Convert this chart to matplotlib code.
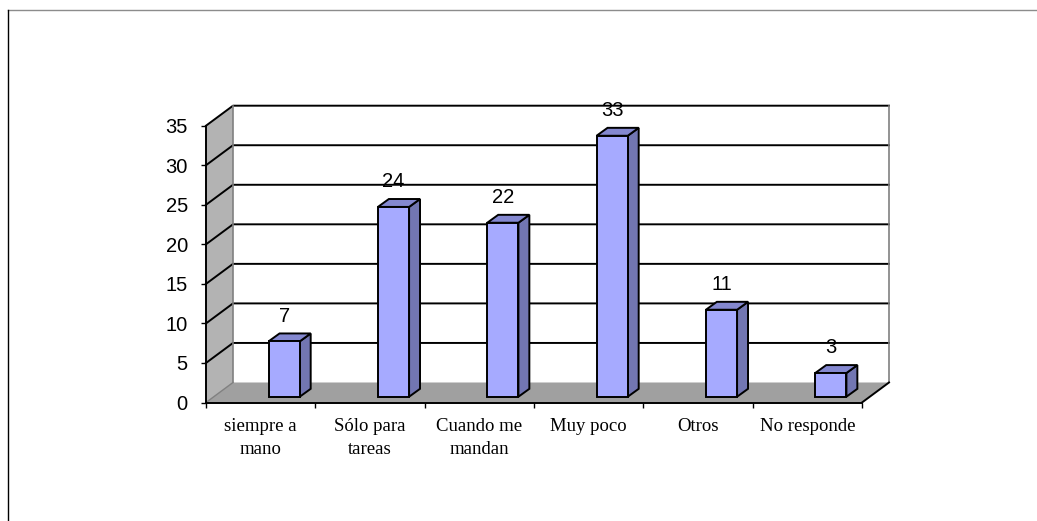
import numpy as np
import matplotlib
matplotlib.use('Agg')
import matplotlib.pyplot as plt
from matplotlib.patches import Polygon
from matplotlib.lines import Line2D

categories = ['siempre a\nmano', 'Sólo para\ntareas', 'Cuando me\nmandan', 'Muy poco', 'Otros', 'No responde']
values = [7, 24, 22, 33, 11, 3]
y_ticks = [0, 5, 10, 15, 20, 25, 30, 35]

# 3d look, everything in data units
wall_dx = 0.247
wall_dy = 2.53
bar_w = 0.285
bar_dx = 0.1
bar_dy = 1.0
bar_shift = 0.215
bar_base = 0.73

W, H = 1037, 521
fig = plt.figure(figsize=(W / 100, H / 100), dpi=100)
ax = fig.add_axes([206 / W, (H - 402.5) / H, (862 - 206) / W, (402.5 - 125.7) / H])
ax.set_xlim(0, 6)
ax.set_ylim(0, 35)
ax.patch.set_visible(False)


def poly(pts, fc, ec='none', lw=0, z=1):
    ax.add_patch(Polygon(pts, closed=True, fc=fc, ec=ec, lw=lw, zorder=z, clip_on=False, joinstyle='miter'))


# walls and floor
poly([(0, 0), (wall_dx, wall_dy), (wall_dx, 35 + wall_dy), (0, 35)], '#b3b3b3')
poly([(0, 0), (wall_dx, wall_dy), (6 + wall_dx, wall_dy), (6, 0)], '#a0a0a0')

# gridlines on side and back wall
for t in y_ticks[1:]:
    ax.plot([0, wall_dx, 6 + wall_dx], [t, t + wall_dy, t + wall_dy], color='black', lw=1.4, zorder=2, clip_on=False)
ax.plot([wall_dx, wall_dx], [wall_dy, 35 + wall_dy], color='#808080', lw=1.2, zorder=2, clip_on=False)
ax.plot([6 + wall_dx, 6 + wall_dx], [wall_dy, 35 + wall_dy], color='#808080', lw=1.2, zorder=2, clip_on=False)
ax.plot([0, wall_dx], [0, wall_dy], color='#808080', lw=1, zorder=2, clip_on=False)
ax.plot([6, 6 + wall_dx], [0, wall_dy], color='black', lw=1.4, zorder=2, clip_on=False)

# bars
for i, v in enumerate(values):
    x0 = i + 0.5 + bar_shift - bar_w / 2
    x1 = x0 + bar_w
    y0 = bar_base
    y1 = v + bar_base
    poly([(x1, y0), (x1 + bar_dx, y0 + bar_dy), (x1 + bar_dx, y1 + bar_dy), (x1, y1)], '#7276b2', 'black', 1.4, 3)
    poly([(x0, y1), (x0 + bar_dx, y1 + bar_dy), (x1 + bar_dx, y1 + bar_dy), (x1, y1)], '#8488d0', 'black', 1.4, 3)
    poly([(x0, y0), (x1, y0), (x1, y1), (x0, y1)], '#a6aaff', 'black', 1.4, 4)
    ax.text(i + 0.5 + bar_shift, v + 3.9, str(v), ha='center', va='center', fontsize=14.5,
            family='Liberation Sans', color='black', zorder=5)

# axes
for s in ['top', 'right']:
    ax.spines[s].set_visible(False)
for s in ['left', 'bottom']:
    ax.spines[s].set_linewidth(1.4)
    ax.spines[s].set_zorder(6)
ax.set_yticks(y_ticks)
ax.set_xticks(np.arange(7))
ax.set_xticklabels([])
ax.set_xticks(np.arange(6) + 0.5, minor=True)
ax.set_xticklabels(categories, minor=True, family='Liberation Serif', fontsize=13.5, linespacing=1.4)
ax.tick_params(axis='x', which='minor', length=0, pad=11.5)
ax.tick_params(axis='x', which='major', length=3.5, width=1)
ax.tick_params(axis='y', length=3.6, width=1, pad=9.5)
for lab in ax.get_yticklabels():
    lab.set_family('Liberation Sans')
    lab.set_fontsize(14.5)

# outer frame of the page
fig.add_artist(Line2D([8 / W, 1], [1 - 9.5 / H, 1 - 9.5 / H], color='#8c8c8c', lw=1))
fig.add_artist(Line2D([8 / W, 8 / W], [0, 1 - 9.5 / H], color='black', lw=1))

fig.savefig('out.png', dpi=100)
